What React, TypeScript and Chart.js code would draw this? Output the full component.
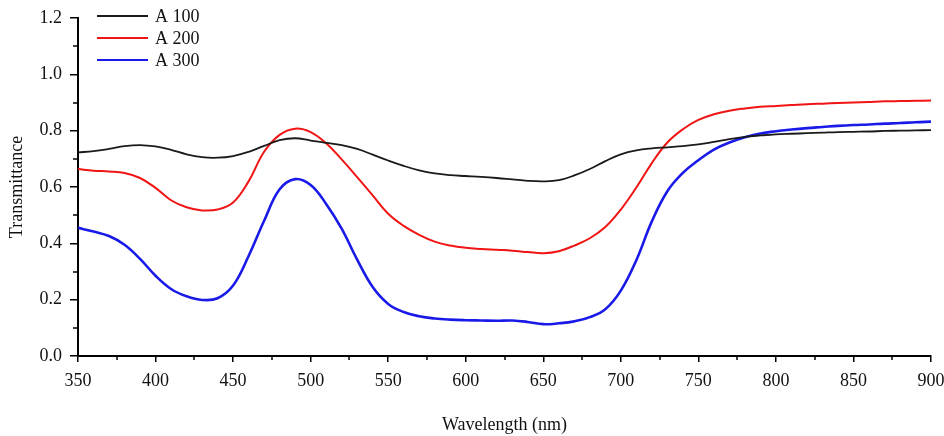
import React, { useEffect, useRef } from "react";
import { Chart, registerables } from "chart.js";

Chart.register(...registerables);

// Wavelength grid (nm)
const wavelengths: number[] = [
  350, 360, 370, 380, 390, 400, 410, 420, 430, 440, 450, 460, 470, 480, 490, 500,
  510, 520, 530, 540, 550, 560, 570, 580, 590, 600, 610, 620, 630, 640, 650, 660,
  670, 680, 690, 700, 710, 720, 730, 740, 750, 760, 770, 780, 790, 800, 810, 820,
  830, 840, 850, 860, 870, 880, 890, 900,
];

const seriesNames: string[] = ["A 100", "A 200", "A 300"];
const seriesColors: string[] = ["#1a1a1a", "#f01414", "#1a1ae8"];
const seriesWidths: number[] = [1.8, 2, 2.6];

const a100: number[] = [
  0.723, 0.727, 0.735, 0.745, 0.749, 0.744, 0.732, 0.716, 0.706, 0.704, 0.71, 0.725,
  0.746, 0.766, 0.773, 0.765, 0.757, 0.749, 0.735, 0.715, 0.694, 0.675, 0.659, 0.648,
  0.642, 0.639, 0.636, 0.632, 0.627, 0.622, 0.62, 0.624, 0.641, 0.664, 0.692, 0.716,
  0.73, 0.737, 0.741, 0.745, 0.751, 0.76, 0.77, 0.778, 0.783, 0.787, 0.789, 0.791,
  0.793, 0.795, 0.796, 0.797, 0.799, 0.8, 0.801, 0.802,
];

const a200: number[] = [
  0.664, 0.658, 0.655, 0.65, 0.632, 0.597, 0.553, 0.528, 0.517, 0.52, 0.545, 0.62,
  0.725, 0.785, 0.807, 0.795, 0.755, 0.698, 0.635, 0.57, 0.505, 0.462, 0.43, 0.406,
  0.392, 0.384, 0.38, 0.377, 0.374, 0.369, 0.365, 0.372, 0.392, 0.418, 0.458, 0.52,
  0.598, 0.685, 0.758, 0.805, 0.838, 0.858, 0.871, 0.879, 0.885, 0.888, 0.891, 0.894,
  0.896, 0.898, 0.9, 0.902, 0.904, 0.905, 0.906, 0.907,
];

const a300: number[] = [
  0.455, 0.442, 0.426, 0.395, 0.345, 0.285, 0.238, 0.212, 0.199, 0.205, 0.25, 0.355,
  0.48, 0.592, 0.628, 0.607, 0.54, 0.452, 0.342, 0.245, 0.185, 0.156, 0.141, 0.133,
  0.129, 0.127, 0.126, 0.125, 0.126, 0.121, 0.113, 0.116, 0.123, 0.138, 0.166, 0.232,
  0.34, 0.478, 0.585, 0.65, 0.695, 0.733, 0.758, 0.777, 0.79, 0.798, 0.804, 0.809,
  0.813, 0.817, 0.82, 0.822, 0.825, 0.827, 0.83, 0.832,
];

const seriesValues: number[][] = [a100, a200, a300];

// Axis settings
const xMin = 350;
const xMax = 900;
const xStep = 50;
const yMin = 0;
const yMax = 1.2;
const yStep = 0.2;

const serif = "'Liberation Serif', 'Times New Roman', serif";
const fontSize = 18;

// Short minor tick marks half-way between the major ticks
const minorTicks = {
  id: "minorTicks",
  afterDraw(chart: any) {
    const { ctx, chartArea, scales } = chart;
    ctx.save();
    ctx.strokeStyle = "#000";
    ctx.lineWidth = 1.5;
    for (let v = xMin + xStep / 2; v < xMax; v += xStep) {
      const px = Math.round(scales.x.getPixelForValue(v));
      ctx.beginPath();
      ctx.moveTo(px, chartArea.bottom);
      ctx.lineTo(px, chartArea.bottom + 4);
      ctx.stroke();
    }
    for (let v = yMin + yStep / 2; v < yMax; v += yStep) {
      const py = Math.round(scales.y.getPixelForValue(v));
      ctx.beginPath();
      ctx.moveTo(chartArea.left - 5, py);
      ctx.lineTo(chartArea.left, py);
      ctx.stroke();
    }
    ctx.restore();
  },
};

// Legend drawn inside the plot area, top-left
const innerLegend = {
  id: "innerLegend",
  afterDraw(chart: any) {
    const { ctx, chartArea } = chart;
    ctx.save();
    ctx.font = `${fontSize}px ${serif}`;
    ctx.textBaseline = "middle";
    ctx.textAlign = "left";
    chart.data.datasets.forEach((ds: any, i: number) => {
      const y = chartArea.top - 2 + i * 22;
      const x0 = chartArea.left + 19;
      ctx.strokeStyle = ds.borderColor;
      ctx.lineWidth = 2;
      ctx.beginPath();
      ctx.moveTo(x0, y);
      ctx.lineTo(x0 + 51, y);
      ctx.stroke();
      ctx.fillStyle = "#111";
      ctx.fillText(ds.label, x0 + 58, y + 1);
    });
    ctx.restore();
  },
};

export default function App() {
  const canvasRef = useRef<HTMLCanvasElement | null>(null);

  useEffect(() => {
    document.body.style.margin = "0";
    const canvas = canvasRef.current;
    if (!canvas) return;

    const chart = new Chart(canvas, {
      type: "line",
      data: {
        datasets: seriesNames.map((name, i) => ({
          label: name,
          data: wavelengths.map((w, j) => ({ x: w, y: seriesValues[i][j] })),
          borderColor: seriesColors[i],
          borderWidth: seriesWidths[i],
          pointRadius: 0,
          fill: false,
          tension: 0.4,
        })),
      },
      options: {
        responsive: false,
        animation: false,
        layout: { padding: { top: 18, right: 13, left: 0, bottom: 0 } },
        plugins: {
          legend: { display: false },
          tooltip: { enabled: false },
        },
        scales: {
          x: {
            type: "linear",
            min: xMin,
            max: xMax,
            afterFit: (scale: any) => {
              scale.height = 80;
              scale.paddingLeft = 0;
              scale.paddingRight = 0;
            },
            ticks: {
              stepSize: xStep,
              color: "#111",
              font: { family: serif, size: fontSize },
              padding: 8,
              maxRotation: 0,
              callback: (v: any) => String(v),
            },
            grid: {
              drawOnChartArea: false,
              drawTicks: true,
              tickLength: 6,
              color: "#000",
              lineWidth: 1.5,
            },
            border: { display: true, color: "#000", width: 2 },
            title: {
              display: true,
              text: "Wavelength (nm)",
              color: "#111",
              font: { family: serif, size: fontSize },
              padding: { top: 0, bottom: 0 },
            },
          },
          y: {
            type: "linear",
            min: yMin,
            max: yMax,
            afterFit: (scale: any) => {
              scale.width = 78;
              scale.paddingTop = 0;
              scale.paddingBottom = 0;
            },
            ticks: {
              stepSize: yStep,
              color: "#111",
              font: { family: serif, size: fontSize },
              padding: 8,
              callback: (v: any) => Number(v).toFixed(1),
            },
            grid: {
              drawOnChartArea: false,
              drawTicks: true,
              tickLength: 8,
              color: "#000",
              lineWidth: 1.5,
            },
            border: { display: true, color: "#000", width: 2 },
            title: {
              display: true,
              text: "Transmittance",
              color: "#111",
              font: { family: serif, size: fontSize },
              padding: { top: 6, bottom: 0 },
            },
          },
        },
      },
      plugins: [minorTicks, innerLegend],
    });

    return () => chart.destroy();
  }, []);

  return (
    <div style={{ width: 944, height: 436, background: "#fff" }}>
      <canvas ref={canvasRef} width={944} height={436} />
    </div>
  );
}
